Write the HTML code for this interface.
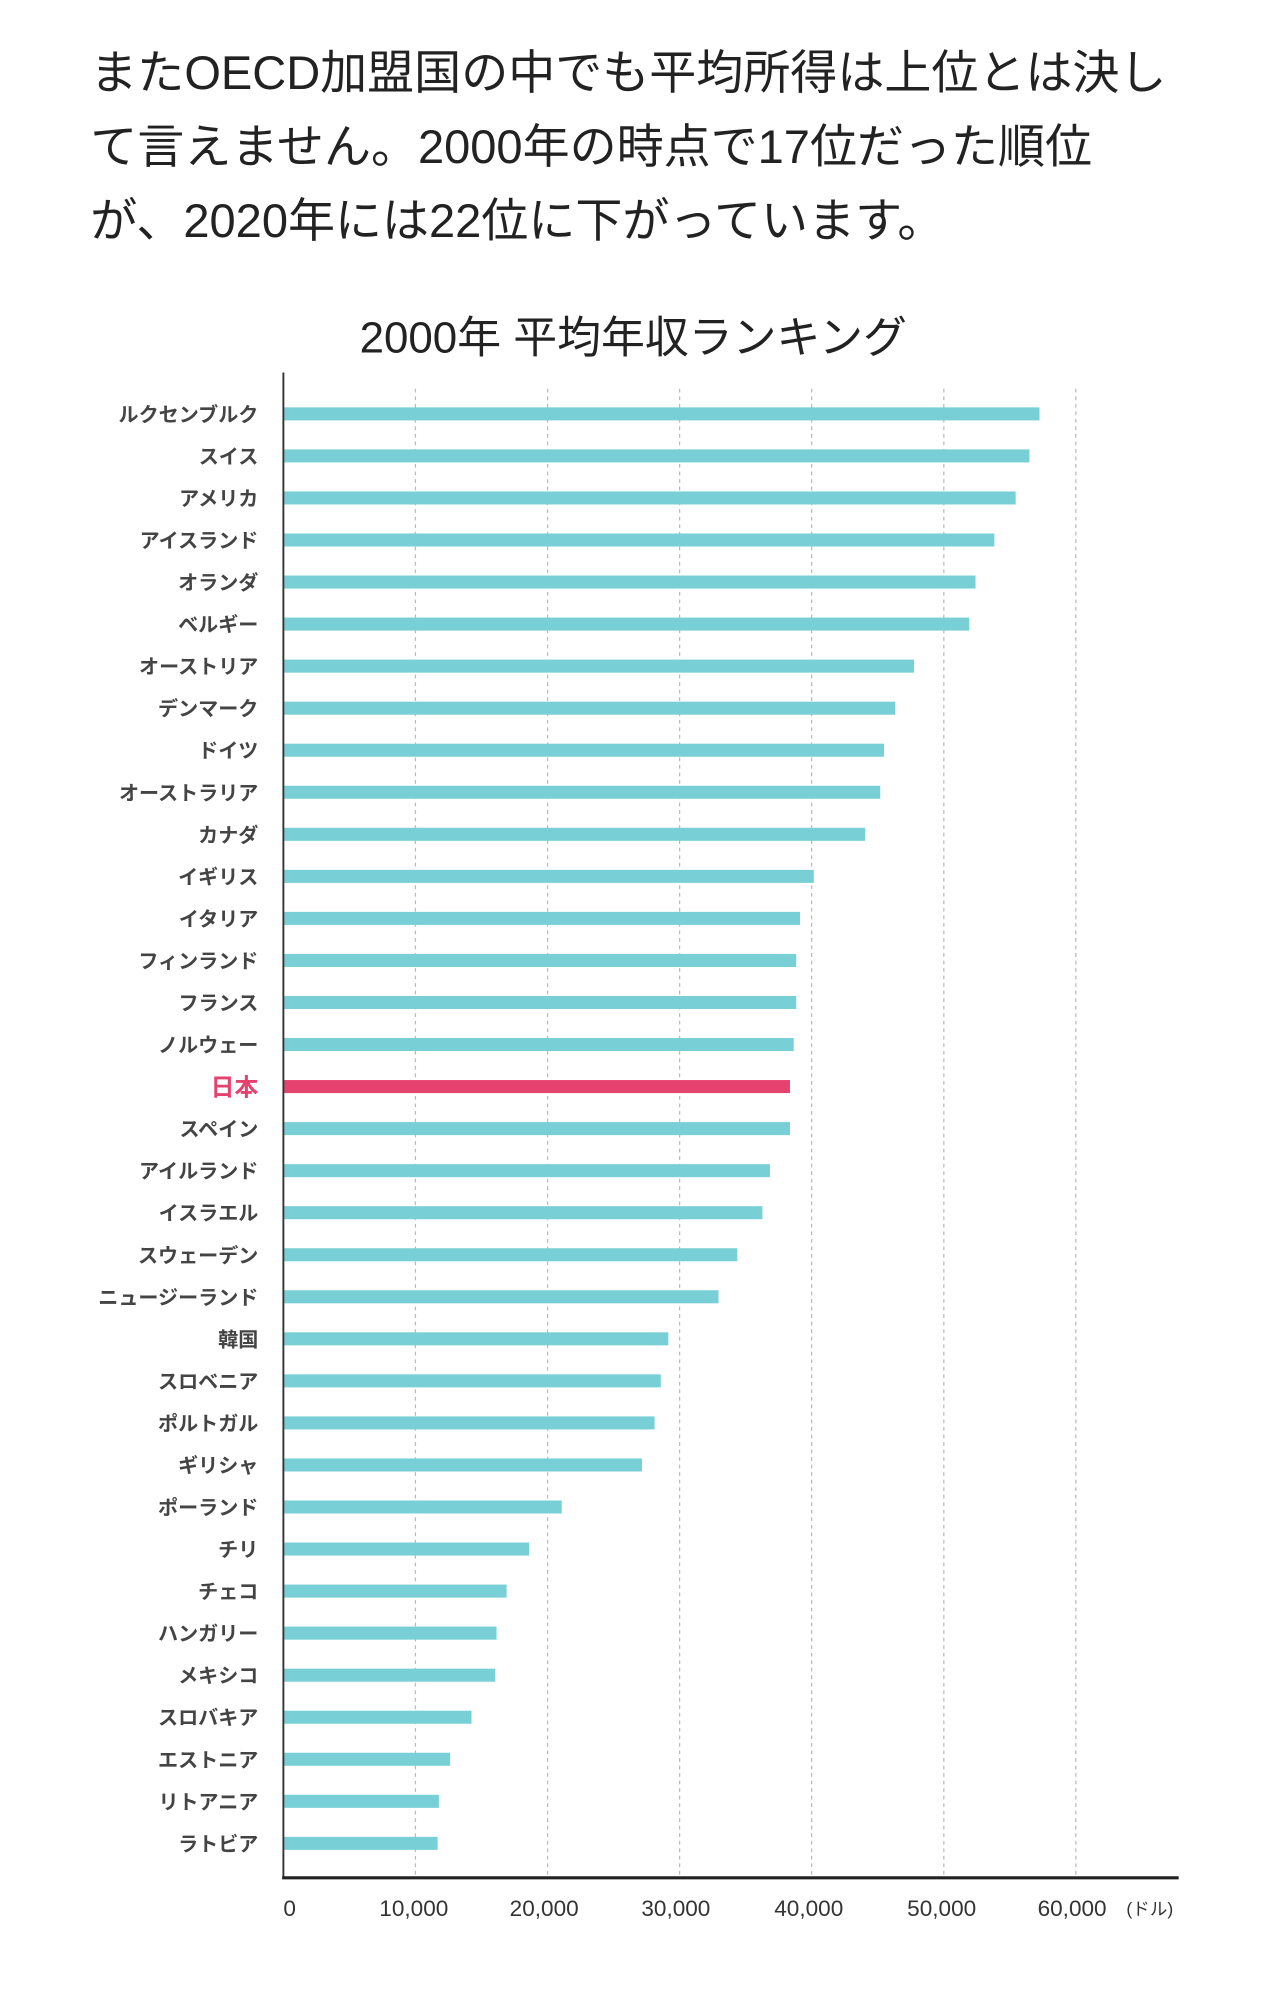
<!DOCTYPE html>
<html><head><meta charset="utf-8"><style>
html,body{margin:0;padding:0;background:#fff;}
svg{display:block;}
text{font-family:"Liberation Sans","Noto Sans CJK JP",sans-serif;}
</style></head><body>
<svg width="1284" height="1992" viewBox="0 0 1024 1588.5" xmlns="http://www.w3.org/2000/svg">
<g fill="#222" font-size="37.5">
<text x="72" y="71">またOECD加盟国の中でも平均所得は上位とは決し</text>
<text x="72" y="130">て言えません。2000年の時点で17位だった順位</text>
<text x="72" y="189">が、2020年には22位に下がっています。</text>
</g>
<text x="505" y="281" font-size="35" fill="#222" text-anchor="middle">2000年 平均年収ランキング</text>
<g stroke="#bbb" stroke-width="1" stroke-dasharray="3,3">
<line x1="331.3" y1="310" x2="331.3" y2="1496"/>
<line x1="436.7" y1="310" x2="436.7" y2="1496"/>
<line x1="542" y1="310" x2="542" y2="1496"/>
<line x1="647.3" y1="310" x2="647.3" y2="1496"/>
<line x1="752.7" y1="310" x2="752.7" y2="1496"/>
<line x1="858" y1="310" x2="858" y2="1496"/>
</g>
<g id="bars"></g>
<line x1="226" y1="297" x2="226" y2="1498" stroke="#333" stroke-width="1.5"/>
<line x1="225" y1="1497.5" x2="940" y2="1497.5" stroke="#222" stroke-width="2.5"/>
<g font-size="18" fill="#333" text-anchor="middle">
<text x="231" y="1528">0</text>
<text x="330" y="1528">10,000</text>
<text x="434" y="1528">20,000</text>
<text x="539" y="1528">30,000</text>
<text x="645" y="1528">40,000</text>
<text x="751" y="1528">50,000</text>
<text x="855" y="1528">60,000</text>
<text x="917" y="1527" font-size="14">(ドル)</text>
</g>
<g id="labels" font-size="16" fill="#444" text-anchor="end" font-weight="bold"></g>
<script>
var names=["ルクセンブルク","スイス","アメリカ","アイスランド","オランダ","ベルギー","オーストリア","デンマーク","ドイツ","オーストラリア","カナダ","イギリス","イタリア","フィンランド","フランス","ノルウェー","日本","スペイン","アイルランド","イスラエル","スウェーデン","ニュージーランド","韓国","スロベニア","ポルトガル","ギリシャ","ポーランド","チリ","チェコ","ハンガリー","メキシコ","スロバキア","エストニア","リトアニア","ラトビア"];
var ends=[829,821,810,793,778,773,729,714,705,702,690,649,638,635,635,633,630,630,614,608,588,573,533,527,522,512,448,422,404,396,395,376,359,350,349];
var ns="http://www.w3.org/2000/svg",b=document.getElementById("bars"),l=document.getElementById("labels");
for(var i=0;i<35;i++){var y=330+i*33.53;
var r=document.createElementNS(ns,"rect");r.setAttribute("x",226);r.setAttribute("y",y-5.2);r.setAttribute("width",ends[i]-226);r.setAttribute("height",10.4);r.setAttribute("fill",i==16?"#e6426f":"#78d0d6");b.appendChild(r);
var t=document.createElementNS(ns,"text");t.setAttribute("x",206);t.setAttribute("y",y+6);t.textContent=names[i];if(i==16){t.setAttribute("fill","#e6426f");t.setAttribute("font-size","19");t.setAttribute("y",y+7);}l.appendChild(t);}
</script>
</svg>
</body></html>
